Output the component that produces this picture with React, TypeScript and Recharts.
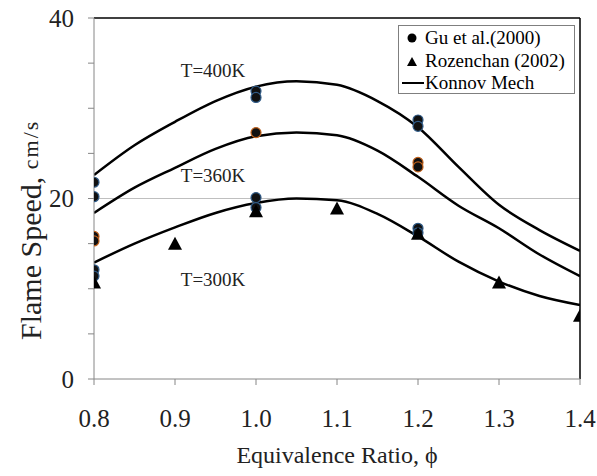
import {
  ComposedChart, Line, Scatter, XAxis, YAxis, ReferenceLine, ReferenceDot,
} from 'recharts';

const FONT = '"Liberation Serif", "Times New Roman", serif';

const X_TICKS = [0.8, 0.9, 1.0, 1.1, 1.2, 1.3, 1.4];
const Y_TICKS = [0, 5, 10, 15, 20, 25, 30, 35, 40];
const Y_LABELED = [0, 20, 40];

// Konnov mechanism curves (phi, flame speed)
const PHI_CURVE = [0.8, 0.85, 0.9, 0.95, 1.0, 1.05, 1.1, 1.15, 1.2, 1.25, 1.3, 1.35, 1.4];
const KONNOV_400 = [22.6, 25.9, 28.5, 30.8, 32.4, 33.0, 32.6, 30.8, 27.9, 23.5, 19.3, 16.5, 14.2];
const KONNOV_360 = [18.4, 21.2, 23.4, 25.5, 26.9, 27.3, 27.0, 25.3, 22.4, 19.2, 16.7, 13.8, 11.4];
const KONNOV_300 = [12.9, 15.0, 16.8, 18.4, 19.5, 20.0, 19.8, 18.3, 15.8, 13.0, 10.8, 9.2, 8.2];

// Gu et al. (2000) measurements
const GU_400_PHI = [0.8, 0.8, 1.0, 1.0, 1.2, 1.2];
const GU_400 = [21.8, 20.2, 31.9, 31.2, 28.7, 28.0];
const GU_360_PHI = [0.8, 0.8, 1.0, 1.2, 1.2];
const GU_360 = [15.8, 15.3, 27.3, 24.0, 23.5];
const GU_300_PHI = [0.8, 0.8, 1.0, 1.0, 1.2, 1.2];
const GU_300 = [12.1, 11.4, 20.1, 19.0, 16.7, 16.2];

// Rozenchan (2002)
const ROZ_PHI = [0.8, 0.9, 1.0, 1.1, 1.2, 1.3, 1.4];
const ROZ = [10.7, 15.0, 18.6, 18.9, 16.1, 10.7, 7.0];

const zip = (xs: number[], ys: number[]) => xs.map((phi, i) => ({ phi, v: ys[i] }));

const curve400 = zip(PHI_CURVE, KONNOV_400);
const curve360 = zip(PHI_CURVE, KONNOV_360);
const curve300 = zip(PHI_CURVE, KONNOV_300);
const gu400 = zip(GU_400_PHI, GU_400);
const gu360 = zip(GU_360_PHI, GU_360);
const gu300 = zip(GU_300_PHI, GU_300);
const roz = zip(ROZ_PHI, ROZ);

const BLUE = '#2f5a86';
const ORANGE = '#c0611c';

const dot = (stroke: string) => (p: any) => (
  <circle cx={p.cx} cy={p.cy} r={5} fill="#111" stroke={stroke} strokeWidth={1.2} />
);

const triangle = (p: any) => (
  <polygon
    points={`${p.cx},${p.cy - 7} ${p.cx - 7},${p.cy + 6} ${p.cx + 7},${p.cy + 6}`}
    fill="#000"
  />
);

const tempLabel = (value: string) => ({
  value, position: 'center' as const, fontSize: 19, fontFamily: FONT, fill: '#222',
});

function Legend() {
  return (
    <div style={{ position: 'absolute', left: 398, top: 25, width: 175, height: 67,
      border: '1px solid #7f7f7f', background: '#fff' }}>
      <svg width={175} height={67} style={{ fontFamily: FONT, fontSize: 19 }}>
        <circle cx={13} cy={12} r={4.5} fill="#000" />
        <text x={26} y={18} fill="#000">Gu et al.(2000)</text>
        <polygon points="13,31 8,40 18,40" fill="#000" />
        <text x={26} y={41} fill="#000">Rozenchan (2002)</text>
        <line x1={3} x2={25} y1={57} y2={57} stroke="#000" strokeWidth={2} />
        <text x={26} y={63} fill="#000">Konnov Mech</text>
      </svg>
    </div>
  );
}

export default function App() {
  const tick = { fontSize: 25, fontFamily: FONT, fill: '#222' };
  return (
    <div style={{ position: 'absolute', left: 0, top: 0, width: 597, height: 476, background: '#fff' }}>
      <ComposedChart width={597} height={476} margin={{ top: 18, right: 17, left: 0, bottom: 0 }}>
        <XAxis
          type="number" dataKey="phi" domain={[0.8, 1.4]} ticks={X_TICKS}
          tickFormatter={(v: number) => v.toFixed(1)}
          height={97} tick={tick} tickSize={6} tickMargin={24}
          stroke="#868686" allowDataOverflow
          label={{ value: 'Equivalence Ratio, ϕ', position: 'insideBottom', offset: 13,
            fontSize: 24, fontFamily: FONT, fill: '#222' }}
        />
        <YAxis
          type="number" dataKey="v" domain={[0, 40]} ticks={Y_TICKS} width={94}
          tickFormatter={(v: number) => (Y_LABELED.includes(v) ? String(v) : '')}
          tick={tick} tickSize={6} tickMargin={14} stroke="#868686" allowDataOverflow
          label={() => {
            const cx = 30;
            const cy = 340;
            return (
              <text x={cx} y={cy} transform={`rotate(-90 ${cx} ${cy})`} textAnchor="start"
                dominantBaseline="central" fontFamily={FONT} fill="#222">
                <tspan fontSize={30}>Flame Speed, </tspan>
                <tspan fontSize={22} letterSpacing={2}>cm/s</tspan>
              </text>
            );
          }}
        />
        <ReferenceLine y={20} stroke="#bfbfbf" strokeWidth={1.2} />
        <ReferenceLine y={40} stroke="#000" strokeWidth={1.5} />
        <ReferenceLine x={1.4} stroke="#000" strokeWidth={1.5} />

        <Line data={curve400} dataKey="v" type="monotone" stroke="#000" strokeWidth={2.5}
          dot={false} activeDot={false} isAnimationActive={false} />
        <Line data={curve360} dataKey="v" type="monotone" stroke="#000" strokeWidth={2.5}
          dot={false} activeDot={false} isAnimationActive={false} />
        <Line data={curve300} dataKey="v" type="monotone" stroke="#000" strokeWidth={2.5}
          dot={false} activeDot={false} isAnimationActive={false} />

        <Scatter data={gu400} dataKey="v" shape={dot(BLUE)} isAnimationActive={false} />
        <Scatter data={gu360} dataKey="v" shape={dot(ORANGE)} isAnimationActive={false} />
        <Scatter data={gu300} dataKey="v" shape={dot(BLUE)} isAnimationActive={false} />
        <Scatter data={roz} dataKey="v" shape={triangle} isAnimationActive={false} />

        <ReferenceDot x={0.947} y={34.2} r={0} stroke="none" label={tempLabel('T=400K')} />
        <ReferenceDot x={0.947} y={22.6} r={0} stroke="none" label={tempLabel('T=360K')} />
        <ReferenceDot x={0.947} y={11.0} r={0} stroke="none" label={tempLabel('T=300K')} />
      </ComposedChart>
      <Legend />
    </div>
  );
}
